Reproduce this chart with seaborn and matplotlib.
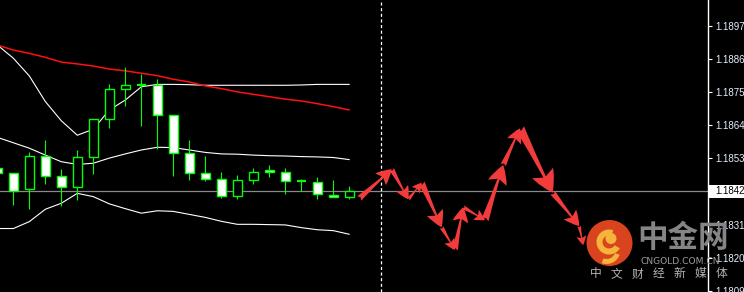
import numpy as np
import pandas as pd
import matplotlib
matplotlib.use("Agg")
import matplotlib.pyplot as plt
import matplotlib.transforms as mtransforms
from matplotlib.patches import Circle, Wedge, Rectangle, FancyArrowPatch
import seaborn as sns

# ---------------- data ----------------
candle_idx = list(range(23))
opens = [1.18497, 1.18480, 1.18427, 1.18538, 1.18470, 1.18434, 1.18534, 1.18660, 1.18760, 1.18774,
         1.18773, 1.18673, 1.18547, 1.18480, 1.18461, 1.18404, 1.18457, 1.18490, 1.18484, 1.18455,
         1.18451, 1.18407, 1.18401]
highs = [1.18500, 1.18480, 1.18551, 1.18591, 1.18495, 1.18558, 1.18661, 1.18777, 1.18834, 1.18811,
         1.18794, 1.18673, 1.18591, 1.18538, 1.18485, 1.18475, 1.18498, 1.18508, 1.18498, 1.18462,
         1.18468, 1.18458, 1.18438]
lows = [1.18478, 1.18376, 1.18363, 1.18446, 1.18373, 1.18393, 1.18479, 1.18632, 1.18705, 1.18639,
        1.18562, 1.18473, 1.18459, 1.18456, 1.18400, 1.18396, 1.18446, 1.18469, 1.18413, 1.18421,
        1.18396, 1.18401, 1.18396]
closes = [1.18480, 1.18423, 1.18538, 1.18470, 1.18436, 1.18534, 1.18661, 1.18760, 1.18773, 1.18774,
          1.18673, 1.18547, 1.18480, 1.18461, 1.18404, 1.18457, 1.18484, 1.18484, 1.18454, 1.18455,
          1.18411, 1.18401, 1.18421]

bb_upper = [1.18907, 1.18863, 1.18804, 1.18719, 1.18655, 1.18607, 1.18627, 1.18691, 1.18724, 1.18768,
            1.18776, 1.18776, 1.18775, 1.18773, 1.18773, 1.18773, 1.18773, 1.18773, 1.18773, 1.18774,
            1.18776, 1.18776, 1.18776]
bb_middle = [1.18600, 1.18582, 1.18564, 1.18541, 1.18519, 1.18510, 1.18514, 1.18531, 1.18545, 1.18558,
             1.18567, 1.18566, 1.18558, 1.18550, 1.18545, 1.18544, 1.18541, 1.18539, 1.18538, 1.18536,
             1.18535, 1.18533, 1.18526]
bb_lower = [1.18297, 1.18297, 1.18320, 1.18361, 1.18381, 1.18414, 1.18403, 1.18379, 1.18363, 1.18348,
            1.18356, 1.18354, 1.18344, 1.18334, 1.18321, 1.18311, 1.18311, 1.18310, 1.18309, 1.18300,
            1.18293, 1.18290, 1.18278]
ma_red = [1.18907, 1.18890, 1.18879, 1.18866, 1.18850, 1.18844, 1.18837, 1.18827, 1.18821, 1.18813,
          1.18805, 1.18793, 1.18784, 1.18771, 1.18762, 1.18751, 1.18743, 1.18735, 1.18727, 1.18721,
          1.18712, 1.18702, 1.18691]

current_price = 1.18423
divider_x = 24

forecast_x = [22.62, 24.65, 25.69, 26.52, 27.77, 28.60, 29.12, 30.48, 31.62, 32.67, 34.71, 36.37, 36.62]
forecast_y = [1.18397, 1.18494, 1.18394, 1.18449, 1.18301, 1.18226, 1.18368, 1.18325, 1.18508, 1.18630,
              1.18416, 1.18305, 1.18242]

ytick_values = [1.18970, 1.18860, 1.18750, 1.18640, 1.18530, 1.18310, 1.18200, 1.18090]

# ---------------- style ----------------
sns.set_style("dark", {"axes.facecolor": "black", "figure.facecolor": "black",
                       "axes.grid": False})
plt.rcParams['font.family'] = ['Liberation Sans', 'DejaVu Sans']

W, H = 744, 292
fig = plt.figure(figsize=(W / 100, H / 100), dpi=100)
fig.patch.set_facecolor('black')
ax = fig.add_axes([0, 0, 708 / W, 1])
ax.set_facecolor('black')
ax.set_xlim(0.167, 44.42)
ax.set_ylim(1.180861, 1.190564)

# indicator lines
df = pd.DataFrame({"idx": candle_idx, "upper": bb_upper, "middle": bb_middle,
                   "lower": bb_lower, "ma": ma_red})
for col, colr, lw in [("upper", "white", 0.8), ("middle", "white", 0.8),
                      ("lower", "white", 0.8), ("ma", "#ff1010", 1.1)]:
    sns.lineplot(data=df, x="idx", y=col, color=colr, linewidth=lw, ax=ax,
                 legend=False, zorder=2)

# current price line and divider
ax.axhline(current_price, color='#8a8a8a', lw=0.9, zorder=1.5)
ax.axvline(divider_x, color='white', lw=0.9, linestyle=(0, (2.5, 2.0)), zorder=1.5)

# candles
o = np.array(opens); c = np.array(closes)
hi = np.array(highs); lo = np.array(lows)
green = '#00ff00'
ax.vlines(candle_idx, lo, hi, color=green, lw=0.8, zorder=3)
bottoms = np.minimum(o, c)
heights = np.abs(c - o)
faces = ['black' if cc > oo else ('white' if cc < oo else green) for oo, cc in zip(o, c)]
lws = [1.6 if cc == oo else 1.0 for oo, cc in zip(o, c)]
ax.bar(candle_idx, heights, bottom=bottoms, width=0.6, color=faces,
       edgecolor=green, linewidth=lws, zorder=4)

# forecast arrows
fig.canvas.draw()
arrow_color = '#f23b3b'
for i in range(len(forecast_x) - 1):
    p0 = ax.transData.transform((forecast_x[i], forecast_y[i]))
    p1 = ax.transData.transform((forecast_x[i + 1], forecast_y[i + 1]))
    L = np.hypot(*(p1 - p0))
    head_px = 0.26 * L + 4.5
    ms = head_px * 72 / 100
    arr = FancyArrowPatch((forecast_x[i], forecast_y[i]), (forecast_x[i + 1], forecast_y[i + 1]),
                          arrowstyle="fancy,head_length=0.95,head_width=1.0,tail_width=0.38",
                          mutation_scale=ms, color=arrow_color, lw=0,
                          shrinkA=0, shrinkB=0, zorder=5)
    ax.add_patch(arr)

# axes styling
for s in ['left', 'top', 'bottom']:
    ax.spines[s].set_visible(False)
ax.spines['right'].set_color('white')
ax.spines['right'].set_linewidth(1.0)
ax.set_xticks([])
ax.yaxis.tick_right()
ax.set_yticks(ytick_values)
ax.set_yticklabels([f"{v:.5f}" for v in ytick_values])
ax.tick_params(axis='y', colors='white', labelcolor='#e6eeff', labelsize=7,
               length=3, width=0.8, pad=2.5, direction='out', right=True, left=False)
ax.set_xlabel("")
ax.set_ylabel("")

# current price label box
fig.add_artist(Rectangle((709 / W, 1 - 198 / H), 40 / W, 13 / H, transform=fig.transFigure,
                         facecolor='white', edgecolor='none', zorder=10))
fig.text(715 / W, current_price, f"{current_price:.5f}",
         transform=mtransforms.blended_transform_factory(fig.transFigure, ax.transData),
         color='black', fontsize=7, va='center', ha='left', zorder=11)

# watermark logo
cx, cy, r = 609.5 / 100, (H - 243) / 100, 0.23
fig.add_artist(Circle((cx, cy), r, transform=fig.dpi_scale_trans,
                      facecolor='#d9441e', edgecolor='none', zorder=12))
fig.add_artist(Wedge((cx - 0.005, cy + 0.01), 0.125, 70, 330, width=0.06,
                     transform=fig.dpi_scale_trans, facecolor='#f5b43c',
                     edgecolor='none', zorder=13))
fig.add_artist(Circle((cx + 0.015, cy + 0.045), 0.055, transform=fig.dpi_scale_trans,
                      facecolor='#f5b43c', edgecolor='none', zorder=13))
fig.add_artist(Wedge((cx - 0.03, cy - 0.07), 0.14, 250, 340, width=0.05,
                     transform=fig.dpi_scale_trans, facecolor='#f5b43c',
                     edgecolor='none', zorder=13))

cjk = ['Noto Sans CJK SC', 'DejaVu Sans']
fig.text(683 / W, 1 - 238 / H, "中金网", fontsize=22, fontweight='bold', color='#858585',
         ha='center', va='center', family=cjk, zorder=14)
fig.text(680 / W, 1 - 261 / H, "CNGOLD.COM.CN", fontsize=6.6, color='#9a9a9a',
         ha='center', va='center', family=['DejaVu Sans'], zorder=14)
for k, ch in enumerate("中文财经新媒体"):
    fig.text((595.5 + 21.0 * k) / W, 1 - 274 / H, ch, fontsize=8.5, color='#b4b4b4',
             ha='center', va='center', family=cjk, zorder=14)

fig.savefig("out.png", dpi=100, facecolor='black')
